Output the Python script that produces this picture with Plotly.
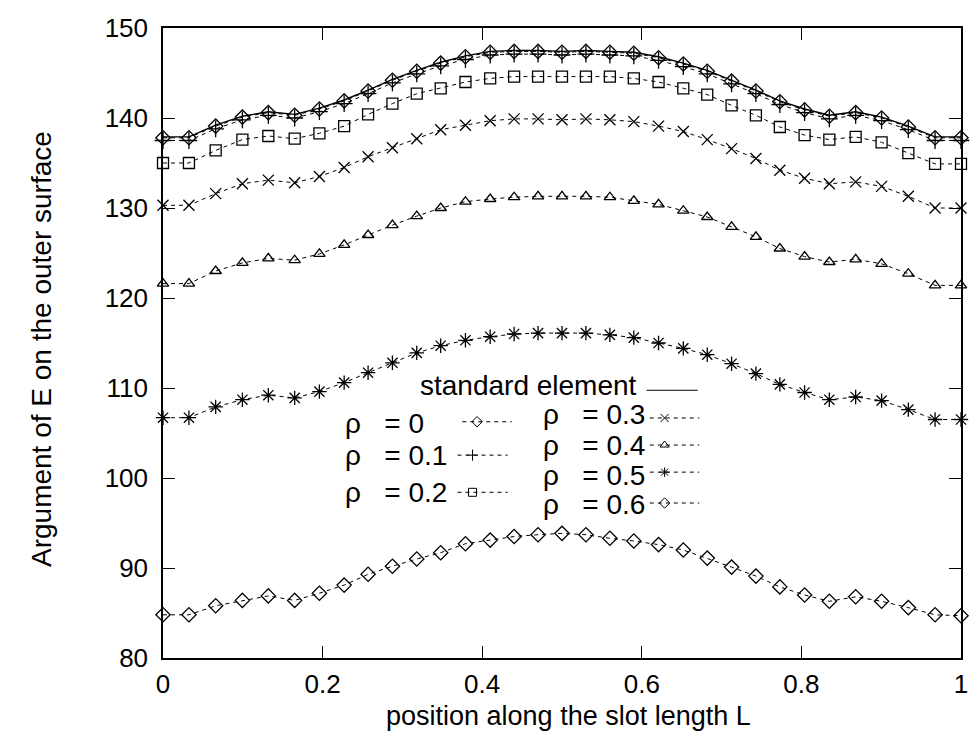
import plotly.graph_objects as go

# positions along the slot (normalised)
x_pos = [0, 0.0325, 0.066, 0.0995, 0.132, 0.165, 0.196, 0.227, 0.257, 0.2875, 0.318,
         0.348, 0.379, 0.410, 0.440, 0.470, 0.5, 0.530, 0.560, 0.590, 0.621, 0.652,
         0.682, 0.7125, 0.743, 0.773, 0.804, 0.835, 0.868, 0.9005, 0.934, 0.9675, 1.0]

standard = [137.9, 137.9, 139.2, 140.2, 140.7, 140.4, 141.1, 142.0, 143.1, 144.3, 145.3,
            146.2, 146.9, 147.4, 147.5, 147.5, 147.4, 147.5, 147.4, 147.3, 146.8, 146.1,
            145.3, 144.2, 143.1, 141.9, 141.0, 140.3, 140.7, 140.1, 139.1, 137.9, 137.9]
rho_0 = [137.8, 137.8, 139.1, 140.1, 140.6, 140.3, 141.0, 141.9, 143.0, 144.2, 145.2,
         146.1, 146.8, 147.3, 147.4, 147.4, 147.3, 147.4, 147.3, 147.2, 146.7, 146.0,
         145.2, 144.1, 143.0, 141.8, 140.9, 140.2, 140.6, 140.0, 139.0, 137.8, 137.8]
rho_01 = [137.5, 137.5, 138.8, 139.8, 140.3, 140.0, 140.7, 141.6, 142.7, 143.9, 144.9,
          145.8, 146.5, 147.0, 147.1, 147.1, 147.0, 147.1, 147.0, 146.9, 146.4, 145.7,
          144.9, 143.8, 142.7, 141.5, 140.6, 139.9, 140.3, 139.7, 138.7, 137.5, 137.5]
rho_02 = [135.0, 135.0, 136.4, 137.6, 138.0, 137.7, 138.3, 139.1, 140.4, 141.6, 142.7,
          143.3, 144.0, 144.4, 144.6, 144.6, 144.6, 144.6, 144.6, 144.4, 144.0, 143.3,
          142.6, 141.4, 140.3, 139.0, 138.1, 137.6, 137.9, 137.3, 136.1, 134.9, 134.9]
rho_03 = [130.3, 130.3, 131.6, 132.7, 133.1, 132.8, 133.5, 134.5, 135.7, 136.7, 137.7,
          138.7, 139.2, 139.7, 139.9, 139.9, 139.8, 139.9, 139.8, 139.6, 139.1, 138.5,
          137.6, 136.6, 135.5, 134.2, 133.3, 132.7, 132.9, 132.4, 131.3, 130.0, 130.0]
rho_04 = [121.6, 121.6, 123.0, 123.9, 124.4, 124.2, 124.9, 125.9, 127.0, 128.1, 129.1,
          130.0, 130.7, 131.0, 131.2, 131.3, 131.3, 131.3, 131.2, 130.8, 130.4, 129.7,
          129.0, 127.9, 126.8, 125.5, 124.6, 124.0, 124.3, 123.8, 122.7, 121.4, 121.4]
rho_05 = [106.7, 106.7, 107.9, 108.7, 109.2, 108.9, 109.6, 110.6, 111.7, 112.8, 113.9,
          114.7, 115.3, 115.7, 116.0, 116.1, 116.1, 116.1, 115.9, 115.6, 115.0, 114.4,
          113.7, 112.7, 111.6, 110.4, 109.5, 108.7, 109.0, 108.6, 107.6, 106.5, 106.5]
rho_06 = [84.8, 84.8, 85.8, 86.4, 86.9, 86.4, 87.2, 88.1, 89.3, 90.2, 91.0,
          91.7, 92.7, 93.1, 93.5, 93.7, 93.85, 93.7, 93.3, 93.0, 92.6, 92.0,
          91.1, 90.1, 89.1, 87.9, 87.0, 86.3, 86.8, 86.3, 85.6, 84.8, 84.7]

x_ticks = [0, 0.2, 0.4, 0.6, 0.8, 1]
x_tick_labels = ["0", "0.2", "0.4", "0.6", "0.8", "1"]
y_ticks = [80, 90, 100, 110, 120, 130, 140, 150]

rho_labels = ["0", "0.1", "0.2", "0.3", "0.4", "0.5", "0.6"]
series = [rho_0, rho_01, rho_02, rho_03, rho_04, rho_05, rho_06]
symbols = ["diamond-open", "cross-thin-open", "square-open", "x-thin-open",
           "triangle-up-open", "asterisk-open", "diamond-open"]
sizes = [11, 12, 11, 11, 10, 12, 11]

FONT = "Liberation Sans"
fig = go.Figure()

for vals, sym, size in zip(series, symbols, sizes):
    fig.add_trace(go.Scatter(
        x=x_pos, y=vals, mode="lines+markers", cliponaxis=False, showlegend=False,
        line=dict(color="black", width=1, dash="4px,4px"),
        marker=dict(symbol=sym, size=size, color="black", line=dict(color="black", width=1.3)),
    ))

fig.add_trace(go.Scatter(
    x=x_pos, y=standard, mode="lines", cliponaxis=False, showlegend=False,
    line=dict(color="black", width=1.4),
))

# ---- hand-made legend on an overlay axis (0..1 spans the plot area) ----
fig.add_trace(go.Scatter(x=[0.606, 0.670], y=[0.425, 0.425], xaxis="x2", yaxis="y2",
                         mode="lines", showlegend=False,
                         line=dict(color="black", width=1.2)))

# sample placement: (y, x-start, x-end) for each rho entry
leg_place = [(0.375, 0.375, 0.437), (0.322, 0.369, 0.432), (0.263, 0.369, 0.432),
             (0.381, 0.610, 0.672), (0.338, 0.610, 0.672), (0.295, 0.610, 0.672),
             (0.246, 0.610, 0.672)]
text_x = [0.226, 0.226, 0.226, 0.474, 0.474, 0.474, 0.474]
text_y = [0.373, 0.322, 0.263, 0.386, 0.338, 0.290, 0.244]

for sym, (yy, xs, xe) in zip(symbols, leg_place):
    fig.add_trace(go.Scatter(x=[xs, xe], y=[yy, yy], xaxis="x2", yaxis="y2", mode="lines",
                             showlegend=False,
                             line=dict(color="black", width=1, dash="4px,4px")))
    fig.add_trace(go.Scatter(x=[xs + (xe - xs) * 0.3], y=[yy], xaxis="x2", yaxis="y2",
                             mode="markers", showlegend=False,
                             marker=dict(symbol=sym, size=8, color="black",
                                         line=dict(color="black", width=1))))

NB = "\u00a0"
annotations = [dict(text="standard element", x=0.597, y=0.433,
                    xanchor="right", yanchor="middle")]
for lab, tx, ty in zip(rho_labels, text_x, text_y):
    annotations.append(dict(text="ρ" + NB * 3 + "= " + lab, x=tx, y=ty,
                            xanchor="left", yanchor="middle"))
for a in annotations:
    a.update(xref="paper", yref="paper", showarrow=False,
             font=dict(family=FONT, size=28, color="black"))

# axis titles as annotations (fixed positions)
annotations.append(dict(text="Argument of E on the outer surface", xref="paper", yref="paper",
                        x=-0.152, y=0.49, textangle=-90, showarrow=False,
                        xanchor="center", yanchor="middle",
                        font=dict(family=FONT, size=28, color="black")))
annotations.append(dict(text="position along the slot length L", xref="paper", yref="paper",
                        x=0.508, y=-0.092, showarrow=False,
                        xanchor="center", yanchor="middle",
                        font=dict(family=FONT, size=27, color="black")))

axis_common = dict(showline=True, linecolor="black", linewidth=1.5, mirror="ticks",
                   ticks="inside", ticklen=12, tickwidth=1.2, tickcolor="black",
                   showgrid=False, zeroline=False, automargin=False,
                   tickfont=dict(family=FONT, size=26, color="black"))

fig.update_layout(
    width=971, height=731,
    margin=dict(l=163, r=10, t=28, b=73),
    paper_bgcolor="white", plot_bgcolor="white",
    font=dict(family=FONT, color="black"),
    xaxis=dict(range=[0, 1], tickvals=x_ticks, ticktext=x_tick_labels,
               ticklabelstandoff=2, **axis_common),
    yaxis=dict(range=[80, 150], tickvals=y_ticks, ticklabelstandoff=8,
               **axis_common),
    xaxis2=dict(range=[0, 1], overlaying="x", visible=False, fixedrange=True),
    yaxis2=dict(range=[0, 1], overlaying="y", visible=False, fixedrange=True),
    annotations=annotations,
    showlegend=False,
)

fig.write_html("out.html", config={"displayModeBar": False},
               post_script="document.body.style.margin='0';document.body.style.overflow='hidden';")
